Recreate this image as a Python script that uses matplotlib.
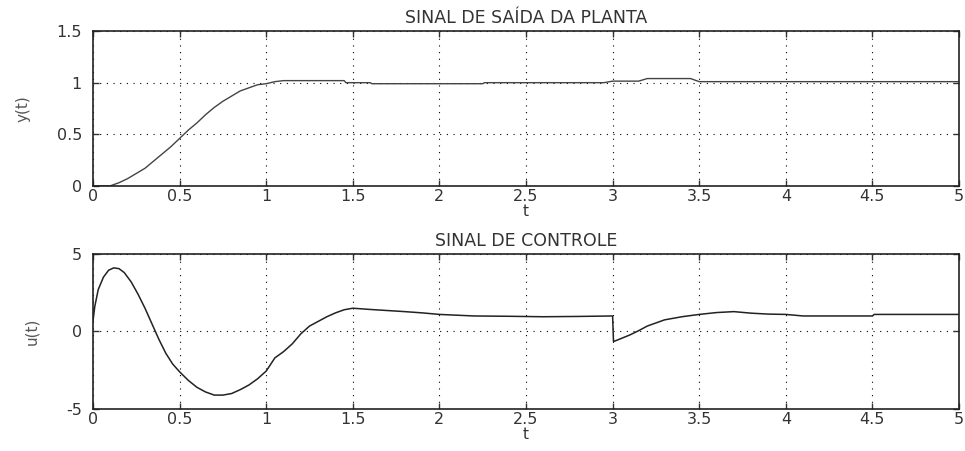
import matplotlib
matplotlib.use('Agg')
import matplotlib.pyplot as plt

# plant output y(t)
t_y = [0, 0.1, 0.15, 0.2, 0.25, 0.3, 0.35, 0.4, 0.45, 0.5, 0.55, 0.6, 0.65, 0.7,
       0.75, 0.8, 0.85, 0.9, 0.95, 1.0, 1.05, 1.1, 1.45, 1.46, 1.6, 1.61, 2.25,
       2.26, 2.95, 3.0, 3.15, 3.2, 3.45, 3.5, 5.0]
y_vals = [0, 0, 0.03, 0.07, 0.12, 0.17, 0.24, 0.31, 0.38, 0.46, 0.54, 0.61, 0.69,
          0.76, 0.82, 0.87, 0.92, 0.95, 0.98, 0.99, 1.01, 1.02, 1.02, 1.0, 1.0,
          0.99, 0.99, 1.0, 1.0, 1.015, 1.015, 1.04, 1.04, 1.01, 1.01]

# control signal u(t)
t_u = [0, 0.01, 0.03, 0.06, 0.09, 0.12, 0.15, 0.18, 0.22, 0.26, 0.30, 0.34, 0.38,
       0.42, 0.46, 0.50, 0.55, 0.60, 0.65, 0.70, 0.75, 0.80, 0.85, 0.90, 0.95,
       1.00, 1.05, 1.10, 1.15, 1.20, 1.25, 1.30, 1.35, 1.40, 1.45, 1.50, 1.60,
       1.70, 1.80, 1.90, 2.00, 2.10, 2.20, 2.40, 2.60, 2.80, 3.00, 3.005, 3.05,
       3.10, 3.15, 3.20, 3.25, 3.30, 3.35, 3.40, 3.50, 3.60, 3.70, 3.80, 3.90,
       4.00, 4.10, 4.30, 4.50, 4.51, 4.80, 5.0]
u_vals = [0.7, 1.6, 2.7, 3.5, 3.95, 4.1, 4.05, 3.8, 3.2, 2.4, 1.5, 0.5, -0.5,
          -1.4, -2.1, -2.6, -3.15, -3.6, -3.9, -4.1, -4.1, -4.0, -3.75, -3.45,
          -3.05, -2.55, -1.7, -1.3, -0.8, -0.15, 0.35, 0.65, 0.95, 1.2, 1.4, 1.5,
          1.42, 1.35, 1.28, 1.2, 1.1, 1.05, 1.0, 0.98, 0.95, 0.97, 1.0, -0.65,
          -0.45, -0.22, 0.05, 0.35, 0.55, 0.75, 0.85, 0.95, 1.1, 1.22, 1.28, 1.18,
          1.12, 1.1, 1.0, 1.0, 1.0, 1.1, 1.1, 1.1]

x_ticks = [0, 0.5, 1, 1.5, 2, 2.5, 3, 3.5, 4, 4.5, 5]
x_ticklabels = ['0', '0.5', '1', '1.5', '2', '2.5', '3', '3.5', '4', '4.5', '5']

plt.rcParams['font.family'] = ['DejaVu Sans']
plt.rcParams['font.size'] = 11.5

fig = plt.figure(figsize=(9.65, 4.51), dpi=100)
ax1 = fig.add_axes([0.0964, 0.588, 0.8974, 0.343])
ax2 = fig.add_axes([0.0964, 0.093, 0.8974, 0.344])


def style(ax, yticks, ylabels, title, ylabel):
    ax.set_xlim(0, 5)
    ax.set_xticks(x_ticks)
    ax.set_xticklabels(x_ticklabels)
    ax.set_yticks(yticks)
    ax.set_yticklabels(ylabels)
    ax.grid(True, color='black', linestyle=(0, (1, 5)), linewidth=0.8)
    ax.tick_params(direction='in', top=True, right=True, length=4, width=1,
                   labelsize=11.5, colors='#333333')
    ax.tick_params(axis='y', pad=8)
    ax.tick_params(axis='x', pad=2)
    for s in ax.spines.values():
        s.set_linewidth(1.2)
        s.set_color('#222222')
    ax.set_title(title, fontsize=12.5, pad=6, color='#333333')
    ax.set_xlabel('t', fontsize=11, labelpad=0, color='#333333')
    ax.set_ylabel(ylabel, fontsize=11, labelpad=19, color='#555555')


ax1.plot(t_y, y_vals, color='#444444', linewidth=1.0)
ax1.set_ylim(0, 1.5)
style(ax1, [0, 0.5, 1, 1.5], ['0', '0.5', '1', '1.5'],
      'SINAL DE SAÍDA DA PLANTA', 'y(t)')

ax2.plot(t_u, u_vals, color='#222222', linewidth=1.1)
ax2.set_ylim(-5, 5)
style(ax2, [-5, 0, 5], ['-5', '0', '5'], 'SINAL DE CONTROLE', 'u(t)')

fig.savefig('out.png', dpi=100)
